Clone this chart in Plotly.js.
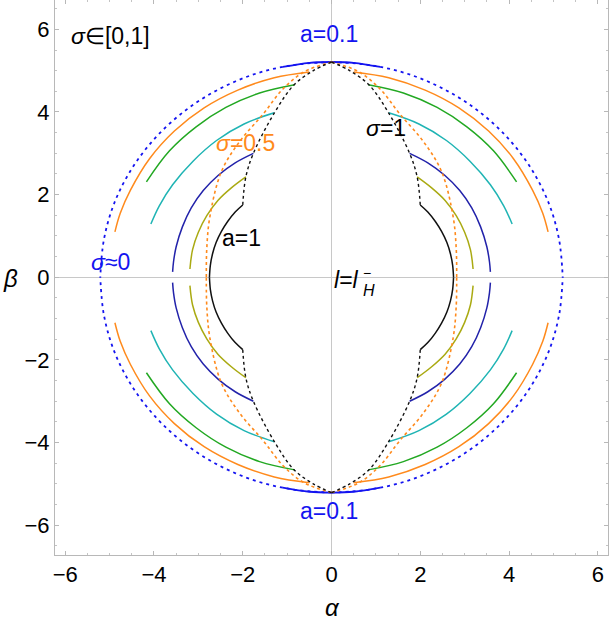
<!DOCTYPE html>
<html>
<head>
<meta charset="utf-8">
<script src="https://cdn.plot.ly/plotly-3.0.1.min.js"></script>
<style>
  html, body { margin: 0; padding: 0; background: #fff; }
  #plot { width: 610px; height: 622px; }
</style>
</head>
<body>
<div id="plot"></div>
<script>
// the shadow is symmetric in alpha and beta, so the other three are mirrored.

// sigma ~ 0, a = 0.1 (blue dotted outer contour)
const sig0Alpha = [0, 0.90, 1.78, 2.61, 3.35, 3.99, 4.51, 4.90, 5.13, 5.21];
const sig0Beta  = [5.21, 5.13, 4.90, 4.51, 3.99, 3.35, 2.61, 1.78, 0.90, 0];

// sigma = 0.5 (orange dashed)
const sigHalfAlpha = [0, 0.62, 1.1, 1.54, 2.06, 2.48, 2.74, 2.81, 2.82];
const sigHalfBeta  = [5.21, 4.97, 4.55, 3.95, 3.3, 2.56, 1.47, 0.7, 0];

// sigma = 1 (black dashed, joins the inner ends of the arcs)
const sig1Alpha = [0, 0.41, 0.85, 1.28, 1.76, 1.93, 2.0];
const sig1Beta  = [5.21, 5.0, 4.65, 3.99, 3.0, 2.43, 1.75];

// solid arcs, one per a value (a = 0.1 ... a = 1)
const arcA01Alpha = [0, 0.5, 1.1];
const arcA01Beta  = [5.21, 5.19, 5.09];

const arcOrangeAlpha = [0.5, 1.29, 2.11, 2.87, 3.54, 4.10, 4.53, 4.76, 4.88];
const arcOrangeBeta  = [4.97, 4.83, 4.53, 4.10, 3.54, 2.87, 2.11, 1.55, 1.10];

const arcGreenAlpha = [0.83, 1.62, 2.38, 3.05, 3.65, 4.17];
const arcGreenBeta  = [4.66, 4.46, 4.11, 3.64, 3.06, 2.31];

const arcCyanAlpha = [1.29, 1.97, 2.59, 3.12, 3.58, 3.88, 4.07];
const arcCyanBeta  = [3.98, 3.71, 3.31, 2.81, 2.24, 1.73, 1.29];

const arcNavyAlpha = [1.76, 2.17, 2.55, 2.89, 3.16, 3.36, 3.50, 3.56, 3.58];
const arcNavyBeta  = [3.0, 2.77, 2.47, 2.10, 1.68, 1.22, 0.74, 0.37, 0.13];

const arcOliveAlpha = [1.93, 2.25, 2.56, 2.81, 3.0, 3.13, 3.19];
const arcOliveBeta  = [2.43, 2.17, 1.86, 1.49, 1.09, 0.67, 0.2];

const arcBlackAlpha = [2.0, 2.17, 2.34, 2.48, 2.60, 2.68, 2.73, 2.75];
const arcBlackBeta  = [1.75, 1.58, 1.35, 1.11, 0.84, 0.57, 0.29, 0];

// labels
const labelText  = ["<i>σ</i>∈[0,1]", "a=0.1", "a=0.1", "<i>σ</i>=0.5", "<i>σ</i>=1", "a=1", "<i>σ</i>≈0"];
const labelAlpha = [-4.99, -0.05, -0.05, -1.93, 1.22, -2.02, -4.97];
const labelBeta  = [5.83, 5.88, -5.66, 3.25, 3.61, 0.95, 0.37];
const labelColor = ["#000000", "#1414f0", "#1414f0", "#ff8a1c", "#000000", "#000000", "#1414f0"];

const FONT = "Liberation Sans, Arial, sans-serif";

function mirror4(a, b) {
  const x = [], y = [];
  [[1, 1], [-1, 1], [-1, -1], [1, -1]].forEach(([sx, sy], k) => {
    if (k) { x.push(null); y.push(null); }
    a.forEach((v, i) => { x.push(sx * v); y.push(sy * b[i]); });
  });
  return { x, y };
}

function curve(a, b, color, width, dash) {
  const m = mirror4(a, b);
  return {
    type: "scatter",
    mode: "lines",
    x: m.x, y: m.y,
    connectgaps: false,
    hoverinfo: "skip",
    line: { color: color, width: width, dash: dash || "solid", shape: "spline", smoothing: 1 },
    showlegend: false
  };
}

const traces = [
  curve(arcA01Alpha, arcA01Beta, "#1414f0", 1.8),
  curve(arcOrangeAlpha, arcOrangeBeta, "#ff8a1c", 1.5),
  curve(arcGreenAlpha, arcGreenBeta, "#22a822", 1.5),
  curve(arcCyanAlpha, arcCyanBeta, "#1fb4b4", 1.5),
  curve(arcNavyAlpha, arcNavyBeta, "#2222aa", 1.5),
  curve(arcOliveAlpha, arcOliveBeta, "#aaaa12", 1.5),
  curve(arcBlackAlpha, arcBlackBeta, "#111111", 1.5),
  curve(sig0Alpha, sig0Beta, "#1414f0", 1.8, "3px,4px"),
  curve(sigHalfAlpha, sigHalfBeta, "#ff8a1c", 1.6, "3px,3px"),
  curve(sig1Alpha, sig1Beta, "#111111", 1.4, "3px,3px")
];

const annotations = labelText.map((t, i) => ({
  x: labelAlpha[i], y: labelBeta[i], xref: "x", yref: "y",
  text: t, showarrow: false, xanchor: "center", yanchor: "middle",
  font: { family: FONT, size: 23, color: labelColor[i] }
}));

// l = l_H^-
annotations.push({
  x: 0, y: -0.07, xref: "x", yref: "y", xanchor: "left", yanchor: "middle",
  text: "<i>l</i>=<i>l</i>", showarrow: false,
  font: { family: FONT, size: 23, color: "#000" }
});
annotations.push({
  x: 0.66, y: -0.33, xref: "x", yref: "y", xanchor: "left", yanchor: "middle",
  text: "<i>H</i>", showarrow: false,
  font: { family: FONT, size: 16, color: "#000" }
});
annotations.push({
  x: 0.66, y: 0.1, xref: "x", yref: "y", xanchor: "left", yanchor: "middle",
  text: "−", showarrow: false,
  font: { family: FONT, size: 14, color: "#000" }
});

// axis titles (beta is upright, so use annotations)
annotations.push({
  x: 0.501, y: -0.095, xref: "paper", yref: "paper", xanchor: "center", yanchor: "middle",
  text: "<i>α</i>", showarrow: false, font: { family: FONT, size: 24, color: "#000" }
});
annotations.push({
  x: -0.08, y: 0.499, xref: "paper", yref: "paper", xanchor: "center", yanchor: "middle",
  text: "<i>β</i>", showarrow: false, font: { family: FONT, size: 24, color: "#000" }
});

const axisCommon = {
  showline: true, linecolor: "#b8b8b8", linewidth: 1, mirror: "allticks",
  ticks: "inside", ticklen: 4, tickwidth: 1, tickcolor: "#b8b8b8",
  dtick: 2, tick0: 0,
  showgrid: false,
  zeroline: true, zerolinecolor: "#c8c8c8", zerolinewidth: 1.2,
  minor: { dtick: 0.5, ticks: "inside", ticklen: 2, tickcolor: "#c4c4c4", showgrid: false },
  tickfont: { family: FONT, size: 22, color: "#000" },
  fixedrange: true
};

const layout = {
  width: 610, height: 622,
  margin: { l: 55, r: 2, t: 0, b: 67, pad: 0 },
  paper_bgcolor: "#ffffff",
  plot_bgcolor: "#ffffff",
  xaxis: Object.assign({}, axisCommon, { range: [-6.23, 6.23] }),
  yaxis: Object.assign({}, axisCommon, { range: [-6.72, 6.71] }),
  annotations: annotations,
  showlegend: false
};

Plotly.newPlot("plot", traces, layout, { staticPlot: true, displayModeBar: false });
</script>
</body>
</html>
